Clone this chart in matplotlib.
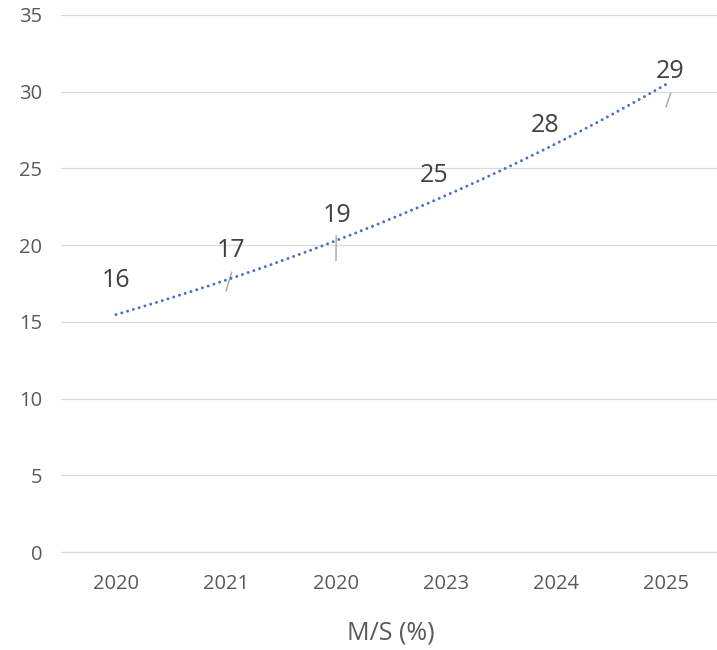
import numpy as np
import matplotlib
matplotlib.use("Agg")
import matplotlib.pyplot as plt

# Market share by year
years = ["2020", "2021", "2020", "2023", "2024", "2025"]
ms_values = [16, 17, 19, 25, 28, 29]
y_ticks = [0, 5, 10, 15, 20, 25, 30, 35]
axis_title = "M/S (%)"

DPI = 100
W, H = 717, 650
PX = 72.0 / DPI  # points per pixel

plt.rcParams["font.family"] = ["Open Sans", "DejaVu Sans"]

fig = plt.figure(figsize=(W / DPI, H / DPI), dpi=DPI)
ax = fig.add_axes([61 / W, 1 - 552 / H, 660 / W, 537 / H])

x = np.arange(len(years))
y = np.array(ms_values, dtype=float)

ax.set_xlim(-0.5, len(years) - 0.5)
ax.set_ylim(0, 35)

# exponential trendline fitted to the series
b, ln_a = np.polyfit(x, np.log(y), 1)
xt = np.linspace(x[0], x[-1], 300)
yt = np.exp(ln_a + b * xt)
ax.plot(xt, yt, color="#4472C4", lw=3 * PX, linestyle=(0, (0.01, 2.0)),
        dash_capstyle="round", solid_capstyle="round", zorder=3)

# data labels, offset from their points (pixels)
label_offsets = [(0, 26.5), (5, 41), (1.5, 45), (-12, -7.5), (-11, -3.5), (4.5, 36)]
for xi, yi, (dx, dy) in zip(x, y, label_offsets):
    ax.annotate(f"{yi:g}", xy=(xi, yi), xytext=(dx * PX, dy * PX),
                textcoords="offset points", ha="center", va="center",
                fontsize=18, color="#404040", zorder=4)

# leader lines from the point toward its label (end offsets, pixels)
leaders = {1: (5.7, 19), 2: (0.2, 25), 5: (4.7, 14)}
for i, (ex, ey) in leaders.items():
    ax.annotate("", xy=(x[i], y[i]), xytext=(ex * PX, ey * PX),
                textcoords="offset points",
                arrowprops=dict(arrowstyle="-", color="#A6A6A6", lw=1.4 * PX,
                                shrinkA=0, shrinkB=0),
                annotation_clip=False, zorder=2)

ax.set_yticks(y_ticks)
ax.set_xticks(x)
ax.set_xticklabels(years)
ax.grid(axis="y", color="#D9D9D9", lw=1.2 * PX, zorder=0)
ax.set_axisbelow(True)
for s in ["top", "right", "left"]:
    ax.spines[s].set_visible(False)
ax.spines["bottom"].set_color("#D9D9D9")
ax.spines["bottom"].set_linewidth(1.2 * PX)
ax.tick_params(axis="both", length=0, labelsize=14.5, labelcolor="#595959")
ax.tick_params(axis="x", pad=22 * PX)
ax.tick_params(axis="y", pad=19 * PX)

ax.set_xlabel(axis_title, fontsize=18, color="#595959", va="center")
ax.xaxis.set_label_coords(0.5, -(633 - 552) / 537)

fig.savefig("out.png", dpi=DPI)
